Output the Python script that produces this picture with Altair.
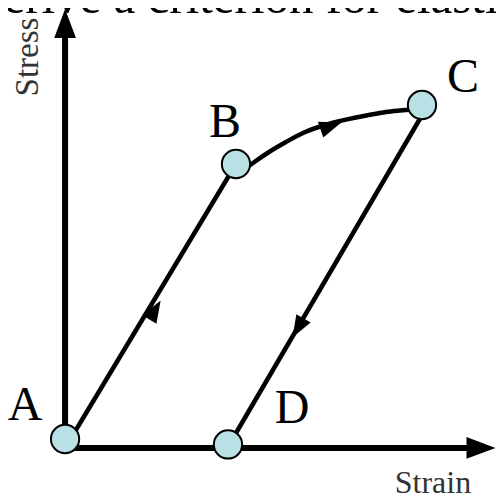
import altair as alt
import pandas as pd

# ---- data (strain, stress in arbitrary units; origin at A) ----
point_names = ["A", "B", "C", "D"]
point_strain = [0.0, 3.894, 8.132, 3.712]
point_stress = [0.205, 6.471, 7.815, 0.08]

# elastic loading A -> B
load_strain = [0.137, 3.894]
load_stress = [0.228, 6.471]
# plastic flow B -> C
yield_strain = [4.099, 4.282, 4.647, 5.034, 5.421, 6.173, 6.924, 7.312, 7.767, 8.132]
yield_stress = [6.357, 6.494, 6.744, 6.972, 7.177, 7.428, 7.587, 7.655, 7.701, 7.747]
# elastic unloading C -> D
unload_strain = [8.269, 3.735]
unload_stress = [7.815, 0.068]

# direction arrows along the path
arrow_strain = [2.049, 6.058, 5.307]
arrow_stress = [3.144, 7.336, 2.734]
arrow_angle = [31, 71, 210]

# point labels
label_strain = [-0.913, 3.644, 9.066, 5.170]
label_stress = [0.638, 7.086, 8.111, 0.570]

# axes
axis_strain_end = 9.3
axis_stress_end = 9.5
axis_head_strain = [0.0, 9.476]
axis_head_stress = [9.672, 0.0]
axis_head_angle = [0, 90]
axis_head_size = [841, 841]

# axis titles
stress_title = "Stress"
stress_title_pos = [-0.844, 8.909]
strain_title = "Strain"
strain_title_pos = [8.382, -1.025]

heading = "Derive a criterion for elastic"
heading_strain = -2.211
heading_stress = 9.911

# ---- build tables ----
rows = []
for seg, xs_, ys_ in [("AB", load_strain, load_stress),
                      ("BC", yield_strain, yield_stress),
                      ("CD", unload_strain, unload_stress)]:
    for i, (a, b) in enumerate(zip(xs_, ys_)):
        rows.append({"seg": seg, "i": i, "strain": a, "stress": b})
paths = pd.DataFrame(rows)

points = pd.DataFrame({"name": point_names, "strain": point_strain, "stress": point_stress})
labels = pd.DataFrame({"name": point_names, "strain": label_strain, "stress": label_stress})
arrows = pd.DataFrame({"strain": arrow_strain, "stress": arrow_stress,
                       "angle": arrow_angle, "size": [484] * 3})
heads = pd.DataFrame({"strain": axis_head_strain, "stress": axis_head_stress,
                      "angle": axis_head_angle, "size": axis_head_size})
axes = pd.DataFrame({"strain": [0.0, 0.0], "strain2": [axis_strain_end, 0.0],
                     "stress": [0.0, 0.0], "stress2": [0.0, axis_stress_end]})
stress_df = pd.DataFrame({"t": [stress_title], "strain": [stress_title_pos[0]],
                          "stress": [stress_title_pos[1]]})
strain_df = pd.DataFrame({"t": [strain_title], "strain": [strain_title_pos[0]],
                          "stress": [strain_title_pos[1]]})
head_df = pd.DataFrame({"t": [heading], "strain": [heading_strain], "stress": [heading_stress]})

xs = alt.Scale(domain=[-1.3, 9.818], nice=False, zero=False)
ys = alt.Scale(domain=[-1.094, 10.025], nice=False, zero=False)
X = alt.X("strain:Q", scale=xs, axis=None)
Y = alt.Y("stress:Q", scale=ys, axis=None)

ARROW = "M0,-1L0.75,1L-0.75,1Z"

axis_lines = alt.Chart(axes).mark_rule(color="black", strokeWidth=6).encode(
    x=X, y=Y, x2="strain2:Q", y2="stress2:Q")

head_marks = alt.Chart(heads).mark_point(shape=ARROW, filled=True, color="black", opacity=1).encode(
    x=X, y=Y, angle=alt.Angle("angle:Q", scale=None), size=alt.Size("size:Q", scale=None))

path_lines = alt.Chart(paths).mark_line(color="black", strokeWidth=4.5, interpolate="monotone").encode(
    x=X, y=Y, detail="seg:N", order="i:Q")

arrow_marks = alt.Chart(arrows).mark_point(shape=ARROW, filled=True, color="black", opacity=1).encode(
    x=X, y=Y, angle=alt.Angle("angle:Q", scale=None), size=alt.Size("size:Q", scale=None))

circles = alt.Chart(points).mark_circle(size=800, color="#b9e0e4", stroke="black",
                                        strokeWidth=2, opacity=1).encode(x=X, y=Y)

label_marks = alt.Chart(labels).mark_text(font="Liberation Serif", fontSize=48, align="center",
                                          baseline="alphabetic", color="black").encode(
    x=X, y=Y, text="name:N")

stress_mark = alt.Chart(stress_df).mark_text(font="Liberation Serif", fontSize=33, align="center",
                                             baseline="middle", angle=270, color="#333333").encode(
    x=X, y=Y, text="t:N")

strain_mark = alt.Chart(strain_df).mark_text(font="Liberation Serif", fontSize=32, align="center",
                                             baseline="alphabetic", color="#333333").encode(
    x=X, y=Y, text="t:N")

heading_mark = alt.Chart(head_df).mark_text(font="Liberation Serif", fontSize=49, align="left",
                                            baseline="alphabetic", color="black").encode(
    x=X, y=Y, text="t:N")

chart = alt.layer(axis_lines, head_marks, path_lines, arrow_marks, circles,
                  label_marks, stress_mark, strain_mark, heading_mark).properties(
    width=488, height=488, padding=0,
    autosize=alt.AutoSizeParams(type="none"),
).configure_view(stroke=None)

chart.save("out.html", embed_options={"renderer": "svg", "actions": False})
